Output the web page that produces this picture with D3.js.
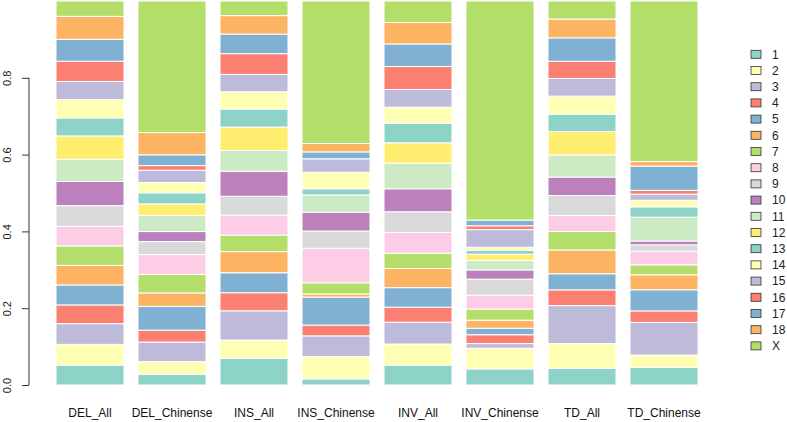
<!DOCTYPE html>
<meta charset="utf-8">
<style>
 body { margin: 0; background: #fff; }
 text { font-family: "Liberation Sans", Arial, sans-serif; }
</style>
<script src="https://d3js.org/d3.v7.min.js"></script>
<svg width="787" height="422"></svg>
<script>
const svg = d3.select('svg');

// groups along the x axis
const groups = ['DEL_All','DEL_Chinense','INS_All','INS_Chinense','INV_All','INV_Chinense','TD_All','TD_Chinense'];
// chromosomes, bottom to top
const chroms = ['1','2','3','4','5','6','7','8','9','10','11','12','13','14','15','16','17','18','X'];

// proportion of each chromosome inside every group
const DEL_All      = [0.052,0.054,0.054,0.049,0.052,0.051,0.051,0.051,0.054,0.063,0.058,0.061,0.047,0.048,0.047,0.053,0.057,0.060,0.040];
const DEL_Chinense = [0.028,0.033,0.051,0.031,0.062,0.035,0.048,0.052,0.034,0.026,0.042,0.030,0.029,0.027,0.032,0.012,0.028,0.058,0.343];
const INS_All      = [0.069,0.048,0.076,0.047,0.052,0.055,0.043,0.052,0.049,0.065,0.054,0.061,0.047,0.045,0.045,0.054,0.051,0.048,0.038];
const INS_Chinense = [0.016,0.058,0.054,0.028,0.073,0.008,0.029,0.090,0.045,0.049,0.045,0.000,0.016,0.043,0.035,0.000,0.018,0.022,0.371];
const INV_All      = [0.052,0.055,0.057,0.039,0.051,0.050,0.040,0.054,0.054,0.060,0.067,0.053,0.051,0.042,0.046,0.060,0.059,0.056,0.056];
const INV_Chinense = [0.042,0.054,0.012,0.023,0.017,0.021,0.029,0.036,0.042,0.024,0.025,0.016,0.010,0.008,0.046,0.010,0.015,0.000,0.571];
const TD_All       = [0.043,0.065,0.099,0.041,0.042,0.062,0.048,0.042,0.052,0.048,0.058,0.061,0.045,0.047,0.046,0.045,0.061,0.049,0.047];
const TD_Chinense  = [0.046,0.032,0.085,0.030,0.055,0.039,0.026,0.035,0.017,0.010,0.062,0.000,0.027,0.017,0.016,0.010,0.063,0.012,0.418];

const series = [DEL_All, DEL_Chinense, INS_All, INS_Chinense, INV_All, INV_Chinense, TD_All, TD_Chinense];
const yTicks = [0, 0.2, 0.4, 0.6, 0.8];

// one row per group for d3.stack
const rows = groups.map((g,i)=>{
	const r = {group: g};
	chroms.forEach((c,j)=>{ r[c] = series[i][j]; });
	return r;
});

const stacked = d3.stack()
	.keys(chroms)
	.offset(d3.stackOffsetExpand)(rows);

const x = d3.scaleBand()
	.domain(groups)
	.range([56, 698])
	.paddingInner(14/82)
	.paddingOuter(0);

const y = d3.scaleLinear()
	.domain([0, 1])
	.range([385, 1]);

// R recycles the 12 Set3 colours
const color = d3.scaleOrdinal()
	.domain(chroms)
	.range(chroms.map((c,i)=>d3.schemeSet3[i % 12]));

svg.append('g')
	.selectAll('g')
	.data(stacked)
	.join('g')
	.attr('fill', d=>color(d.key))
	.selectAll('rect')
	.data(d=>d)
	.join('rect')
	.attr('x', d=>x(d.data.group))
	.attr('width', x.bandwidth())
	.attr('y', d=>y(d[1]))
	.attr('height', d=>y(d[0]) - y(d[1]))
	.attr('stroke', '#fff')
	.attr('stroke-width', 1);

// y axis
const yAxis = svg.append('g')
	.attr('transform', 'translate(29,0)')
	.call(d3.axisLeft(y).tickValues(yTicks).tickFormat(d3.format('.1f')).tickSize(7).tickSizeOuter(0));
yAxis.select('.domain')
	.attr('d', `M0,${y(0)}V${y(0.8)}`)
	.attr('stroke', '#333');
yAxis.selectAll('.tick line').attr('stroke', '#333');
yAxis.selectAll('.tick text')
	.attr('font-size', 11)
	.attr('fill', '#222')
	.attr('x', null)
	.attr('dy', null)
	.attr('text-anchor', 'middle')
	.attr('transform', 'translate(-22,0) rotate(-90)')
	.attr('dy', '0.35em');

// group labels
svg.append('g')
	.selectAll('text')
	.data(groups)
	.join('text')
	.attr('x', d=>x(d) + x.bandwidth()/2)
	.attr('y', 417)
	.attr('text-anchor', 'middle')
	.attr('font-size', 12)
	.attr('fill', '#111')
	.text(d=>d);

// legend
const legend = svg.append('g')
	.selectAll('g')
	.data(chroms)
	.join('g')
	.attr('transform', (d,i)=>`translate(751,${54.3 + i*16.2})`);

legend.append('rect')
	.attr('x', 0)
	.attr('y', -4)
	.attr('width', 10)
	.attr('height', 8)
	.attr('fill', d=>color(d))
	.attr('stroke', '#333')
	.attr('stroke-width', 0.8);

legend.append('text')
	.attr('x', 21)
	.attr('dy', '0.36em')
	.attr('font-size', 12)
	.attr('fill', '#222')
	.text(d=>d);
</script>
